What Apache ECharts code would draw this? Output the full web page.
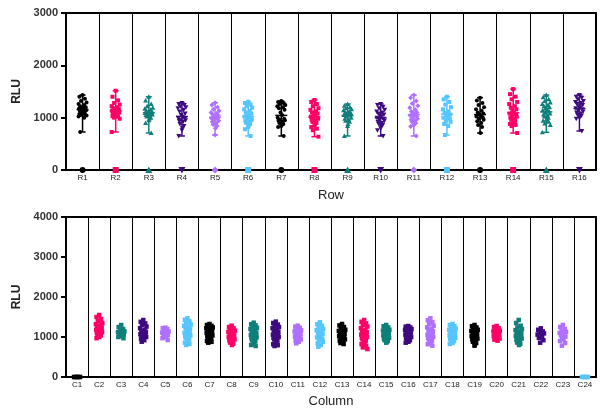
<!DOCTYPE html>
<html><head><meta charset="utf-8">
<script src="https://cdn.jsdelivr.net/npm/echarts@6/dist/echarts.min.js"></script>
<style>html,body{margin:0;padding:0;background:#fff}#c{width:602px;height:414px}</style>
</head><body><div id="c"></div>
<script>
// ---------- DATA ----------
const rowCategories = ['R1','R2','R3','R4','R5','R6','R7','R8','R9','R10','R11','R12','R13','R14','R15','R16'];
const colCategories = ['C1','C2','C3','C4','C5','C6','C7','C8','C9','C10','C11','C12','C13','C14','C15','C16','C17','C18','C19','C20','C21','C22','C23','C24'];

const r1 = [1433,1400,1360,1320,1290,1260,1240,1220,1200,1190,1180,1170,1160,1150,1140,1130,1120,1110,1100,1090,1080,1070,1060,1050,1040,1020,1000,726];
const r2 = [1515,1400,1330,1280,1250,1220,1200,1180,1160,1150,1140,1130,1120,1110,1100,1090,1080,1070,1060,1050,1040,1030,1020,1000,980,726];
const r3 = [1401,1330,1260,1220,1190,1170,1150,1130,1120,1110,1100,1090,1080,1070,1060,1050,1040,1020,1000,980,950,900,707];
const r4 = [1280,1260,1240,1220,1200,1180,1150,1120,1080,1050,1020,1000,980,960,950,940,920,880,840,800,760,650];
const r5 = [1286,1240,1200,1160,1130,1100,1080,1060,1040,1020,1000,990,980,960,940,920,900,870,840,800,669];
const r6 = [1305,1280,1250,1220,1190,1160,1130,1100,1080,1060,1040,1020,1000,980,960,940,920,900,880,850,820,780,650];
const r7 = [1318,1300,1280,1260,1240,1220,1200,1180,1150,1100,1050,1000,980,960,950,940,920,900,880,860,840,820,650];
const r8 = [1338,1300,1260,1220,1180,1150,1120,1100,1080,1060,1040,1020,1000,990,980,960,940,920,900,880,850,820,790,760,637];
const r9 = [1261,1230,1200,1180,1160,1140,1120,1100,1090,1080,1060,1050,1040,1020,1000,980,960,940,920,880,840,650];
const r10 = [1261,1240,1210,1180,1150,1120,1100,1080,1060,1040,1020,1000,980,960,940,920,900,880,860,830,800,760,650];
const r11 = [1433,1380,1320,1270,1230,1190,1150,1120,1100,1080,1060,1040,1020,1000,980,960,940,920,900,880,860,830,650];
const r12 = [1401,1350,1300,1250,1200,1160,1120,1090,1060,1040,1020,1000,980,950,920,880,840,669];
const r13 = [1382,1330,1280,1240,1200,1160,1130,1100,1080,1060,1040,1020,1000,980,960,930,900,860,820,707];
const r14 = [1548,1450,1400,1350,1300,1260,1220,1190,1160,1130,1100,1080,1060,1040,1020,1000,980,960,940,920,900,880,860,840,707];
const r15 = [1433,1390,1350,1320,1290,1260,1240,1220,1200,1180,1160,1140,1120,1100,1080,1060,1040,1020,1000,980,960,940,920,890,860,720];
const r16 = [1433,1400,1380,1350,1320,1300,1280,1260,1240,1220,1200,1180,1160,1140,1120,1100,1080,1060,1040,1020,1000,980,745];
const rowBlanks = [0,0,0,0,0,0,0,0,0,0,0,0,0,0,0,0];

const c1 = [0,0,0,0,0];
const c2 = [1550,1500,1450,1400,1350,1320,1290,1260,1240,1220,1200,1180,1160,1140,1120,1100,1080,1060,1040,1020,1000,970];
const c3 = [1300,1250,1200,1170,1140,1120,1100,1080,1060,1040,1020,1000,970];
const c4 = [1425,1380,1340,1300,1260,1220,1180,1150,1130,1110,1090,1070,1050,1030,1000,960,920,883];
const c5 = [1233,1220,1200,1170,1140,1110,1090,1070,1050,1030,1000,970,925];
const c6 = [1467,1430,1390,1350,1310,1280,1250,1220,1190,1160,1130,1100,1080,1060,1040,1020,1000,980,950,920,890,860,830,800];
const c7 = [1325,1300,1280,1260,1240,1220,1200,1180,1160,1140,1120,1100,1080,1060,1040,1020,1000,980,960,940,920,900,880,858];
const c8 = [1283,1250,1220,1190,1160,1130,1100,1080,1060,1040,1020,1000,980,960,940,920,890,860,830,800];
const c9 = [1358,1320,1290,1260,1230,1200,1170,1140,1110,1090,1070,1050,1030,1010,990,970,950,920,890,860,830,800,775];
const c10 = [1383,1350,1310,1280,1250,1220,1190,1160,1130,1100,1080,1060,1040,1020,1000,980,960,940,910,880,850,820,795,775];
const c11 = [1283,1260,1230,1200,1170,1140,1110,1090,1070,1050,1030,1010,990,970,940,910,880,842];
const c12 = [1367,1320,1280,1240,1200,1170,1140,1110,1080,1050,1020,990,960,920,880,840,800,758];
const c13 = [1325,1290,1250,1210,1180,1150,1120,1100,1080,1060,1040,1020,1000,970,940,910,880,850,825];
const c14 = [1425,1380,1340,1300,1260,1220,1180,1150,1120,1100,1080,1060,1040,1020,1000,980,960,940,910,880,850,820,780,740,700];
const c15 = [1300,1270,1240,1210,1180,1160,1140,1120,1100,1080,1060,1040,1020,1000,980,960,940,920,900,880,858];
const c16 = [1275,1260,1240,1220,1200,1180,1160,1140,1120,1100,1080,1060,1040,1020,1000,980,960,940,920,900,880,858];
const c17 = [1467,1420,1370,1320,1280,1240,1200,1170,1140,1110,1080,1060,1040,1020,1000,980,960,940,910,880,850,820,783];
const c18 = [1325,1300,1270,1240,1210,1180,1150,1120,1100,1080,1060,1040,1020,1000,980,960,940,920,900,880,850,825];
const c19 = [1300,1270,1240,1210,1180,1150,1120,1100,1080,1060,1040,1020,1000,980,960,940,910,880,850,820,783];
const c20 = [1275,1250,1220,1190,1160,1140,1120,1100,1080,1060,1040,1020,1000,980,960,935,908];
const c21 = [1425,1350,1280,1240,1200,1170,1140,1110,1090,1070,1050,1030,1010,990,960,930,900,860,830,800];
const c22 = [1217,1180,1140,1110,1090,1060,1020,980,920,858];
const c23 = [1300,1250,1200,1160,1130,1100,1070,1040,1010,980,940,900,850,783];
const c24 = [0,0,0,0,0];

const rowValues = [r1,r2,r3,r4,r5,r6,r7,r8,r9,r10,r11,r12,r13,r14,r15,r16];
const colValues = [c1,c2,c3,c4,c5,c6,c7,c8,c9,c10,c11,c12,c13,c14,c15,c16,c17,c18,c19,c20,c21,c22,c23,c24];

// ---------- STYLE ----------
const palette = ['#000000','#ff0066','#0f7f7a','#3d0a80','#b070ff','#55c6ff'];
const shapes = ['circle','rect','triangle','triangleDown','diamond','rect'];
const jitterPattern = [0,-4,3,-2,5,-5,2,-3,4,-1,1,-4.5,3.5,-1.5,4.5,-3.5,1.5,-2.5,2.5,0.5];

function pointsData(values, blanks) {
  const out = [];
  values.forEach((arr, ci) => {
    arr.forEach((v, k) => out.push([ci, v, k]));
    if (blanks) out.push([ci, blanks[ci], -1]);
  });
  return out;
}
function shapeEl(shape, x, y, s, color) {
  const h = s / 2;
  switch (shape) {
    case 'rect': return {type:'rect', shape:{x:x-h, y:y-h, width:s, height:s}, style:{fill:color}};
    case 'triangle': return {type:'polygon', shape:{points:[[x,y-h-0.5],[x+h+0.5,y+h],[x-h-0.5,y+h]]}, style:{fill:color}};
    case 'triangleDown': return {type:'polygon', shape:{points:[[x-h-0.5,y-h],[x+h+0.5,y-h],[x,y+h+0.5]]}, style:{fill:color}};
    case 'diamond': return {type:'polygon', shape:{points:[[x,y-h-0.5],[x+h+0.5,y],[x,y+h+0.5],[x-h-0.5,y]]}, style:{fill:color}};
    default: return {type:'circle', shape:{cx:x, cy:y, r:h}, style:{fill:color}};
  }
}
function pointRenderer(halfWidth, size, useShapes, blankWidth) {
  return function (params, api) {
    const ci = api.value(0), v = api.value(1), k = api.value(2);
    const p = api.coord([ci, v]);
    const color = palette[ci % palette.length];
    const shape = useShapes ? shapes[ci % shapes.length] : 'rect';
    if (k < 0) return shapeEl(shape, p[0], p[1], size + 2, color);
    if (v === 0) {
      const dx0 = (k % 5 - 2) * blankWidth / 4;
      return shapeEl('rect', p[0] + dx0, p[1], size, color);
    }
    const dx = jitterPattern[k % jitterPattern.length] * halfWidth / 5;
    return shapeEl(shape, p[0] + dx, p[1], size, color);
  };
}
const whiskerData = rowValues.map((arr, ci) => {
  const mean = arr.reduce((a, b) => a + b, 0) / arr.length;
  return [ci, Math.min.apply(null, arr), Math.max.apply(null, arr), mean];
});
function whiskerRenderer(params, api) {
  const ci = api.value(0);
  const pMin = api.coord([ci, api.value(1)]);
  const pMax = api.coord([ci, api.value(2)]);
  const pMean = api.coord([ci, api.value(3)]);
  const color = palette[ci % palette.length];
  const st = {stroke: color, lineWidth: 1.5};
  const x = pMin[0];
  return {type:'group', children:[
    {type:'line', shape:{x1:x, y1:pMin[1], x2:x, y2:pMax[1]}, style:st},
    {type:'line', shape:{x1:x-3, y1:pMin[1], x2:x+3, y2:pMin[1]}, style:st},
    {type:'line', shape:{x1:x-3, y1:pMax[1], x2:x+3, y2:pMax[1]}, style:st},
    {type:'line', shape:{x1:x-6, y1:pMean[1], x2:x+6, y2:pMean[1]}, style:st}
  ]};
}

const font = 'Liberation Sans, Arial, sans-serif';
function yAxisCfg(max, gridIndex) {
  return {
    type:'value', gridIndex, min:0, max, interval:1000,
    name:'RLU', nameLocation:'middle', nameGap:41,
    nameTextStyle:{fontFamily:font, fontSize:12, fontWeight:'bold', color:'#222'},
    axisLine:{show:true, onZero:false, lineStyle:{color:'#000', width:2}},
    axisTick:{show:true, length:5, lineStyle:{color:'#000', width:2}},
    axisLabel:{fontFamily:font, fontSize:11, fontWeight:'bold', color:'#333', margin:8,
      formatter: v => String(v)},
    splitLine:{show:false}
  };
}
function xAxisCfg(cats, name, gridIndex, gap) {
  return {
    type:'category', gridIndex, data:cats, boundaryGap:true,
    name, nameLocation:'middle', nameGap:gap,
    nameTextStyle:{fontFamily:font, fontSize:13, color:'#222'},
    axisLine:{show:true, onZero:false, lineStyle:{color:'#000', width:2}},
    axisTick:{show:false},
    axisLabel:{fontFamily:font, fontSize:8, color:'#222', margin:4, interval:0},
    splitLine:{show:true, interval:0, lineStyle:{color:'#000', width:1}}
  };
}
function frameX(cats, gridIndex) {
  return {type:'category', gridIndex, data:cats, position:'top',
    axisLine:{show:true, onZero:false, lineStyle:{color:'#000', width:2}},
    axisTick:{show:false}, axisLabel:{show:false}, splitLine:{show:false}};
}
function frameY(max, gridIndex) {
  return {type:'value', gridIndex, min:0, max, position:'right',
    axisLine:{show:true, onZero:false, lineStyle:{color:'#000', width:2}},
    axisTick:{show:false}, axisLabel:{show:false}, splitLine:{show:false}};
}

const chart = echarts.init(document.getElementById('c'), null, {renderer:'canvas'});
chart.setOption({
  animation:false,
  backgroundColor:'#fff',
  grid:[
    {left:66, right:6, top:13, height:157},
    {left:66, right:6, top:217, height:160}
  ],
  xAxis:[
    xAxisCfg(rowCategories, 'Row', 0, 19),
    xAxisCfg(colCategories, 'Column', 1, 18),
    frameX(rowCategories, 0),
    frameX(colCategories, 1)
  ],
  yAxis:[
    yAxisCfg(3000, 0),
    yAxisCfg(4000, 1),
    frameY(3000, 0),
    frameY(4000, 1)
  ],
  series:[
    {type:'custom', xAxisIndex:0, yAxisIndex:0, clip:false, z:3,
      data:pointsData(rowValues, rowBlanks), encode:{x:0, y:1},
      renderItem:pointRenderer(4, 4, true, 0)},
    {type:'custom', xAxisIndex:0, yAxisIndex:0, clip:false, z:4,
      data:whiskerData, encode:{x:0, y:[1,2]},
      renderItem:whiskerRenderer},
    {type:'custom', xAxisIndex:1, yAxisIndex:1, clip:false, z:3,
      data:pointsData(colValues, null), encode:{x:0, y:1},
      renderItem:pointRenderer(3.2, 4.5, false, 6)},
    {type:'custom', xAxisIndex:2, yAxisIndex:2, data:[], renderItem:() => null},
    {type:'custom', xAxisIndex:3, yAxisIndex:3, data:[], renderItem:() => null}
  ]
});
</script></body></html>
